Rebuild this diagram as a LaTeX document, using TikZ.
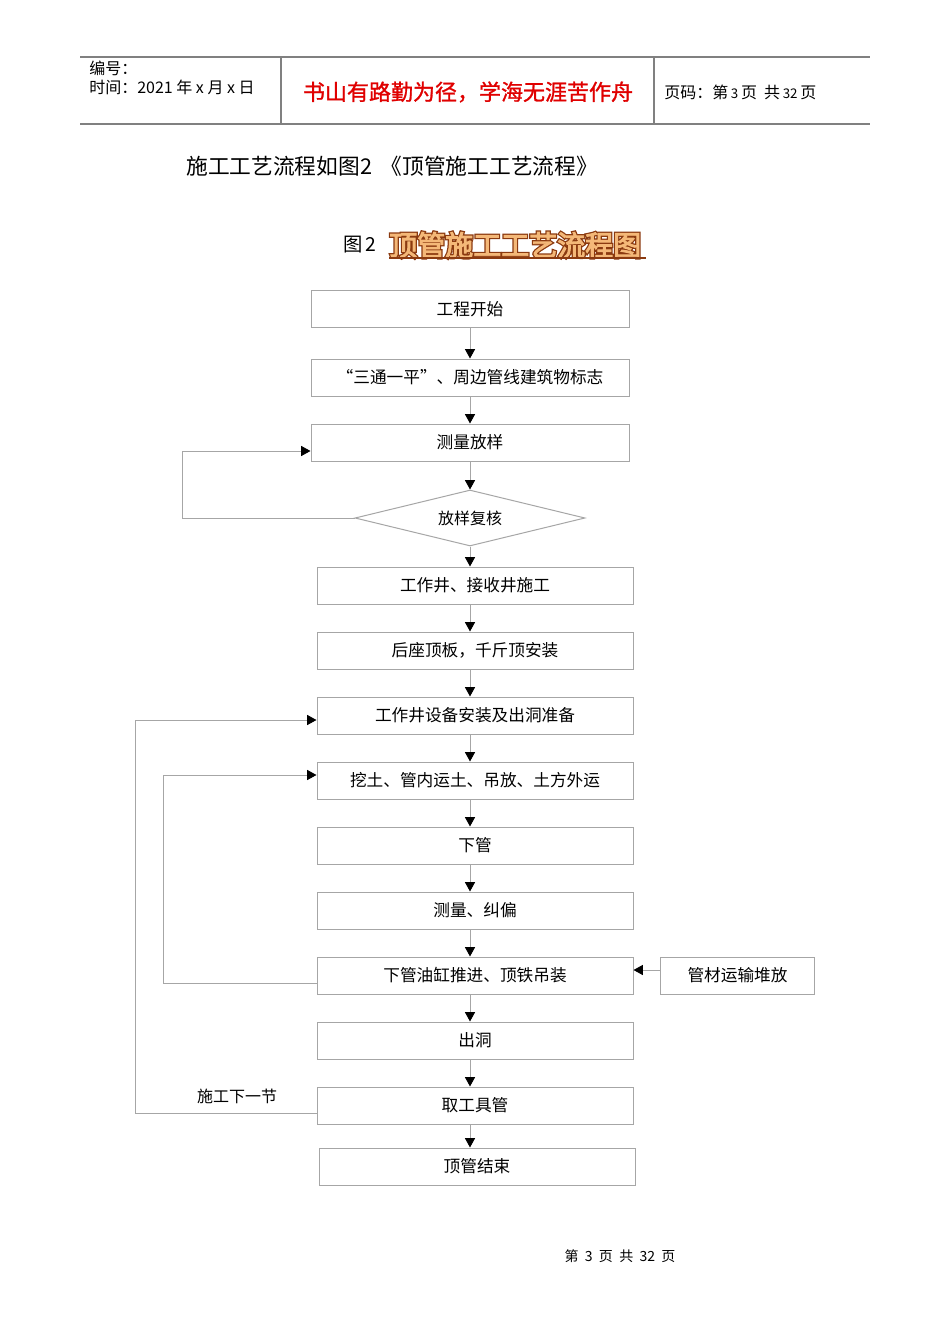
\documentclass[tikz,border=0pt]{standalone}
\usepackage{fontspec}
\setmainfont{Noto Sans CJK SC}
\newfontfamily\cjk{Noto Sans CJK SC}
\newfontfamily\cjkbold[FakeBold=1.2]{Noto Sans CJK SC}
\usetikzlibrary{shapes.geometric,arrows.meta}
\definecolor{boxline}{HTML}{A6A6A6}
\definecolor{hdrline}{HTML}{808080}
\definecolor{titlefill}{HTML}{F4B878}
\definecolor{titlebrown}{HTML}{8B3A10}
\definecolor{hdrred}{HTML}{E00000}
\newcommand{\titletext}{顶管施工工艺流程图}
\begin{document}
\begin{tikzpicture}[x=0.75pt,y=-0.75pt,
  box/.style={draw=boxline,line width=0.75pt,minimum width=237pt,minimum height=27.75pt,inner sep=0pt,font=\cjk\fontsize{12.5}{14}\selectfont},
  dia/.style={draw=boxline,line width=0.75pt,diamond,aspect=4,minimum width=172.5pt,minimum height=42pt,inner sep=0pt,font=\cjk\fontsize{12}{13}\selectfont},
  arr/.style={draw=boxline,line width=0.75pt,-{Triangle[length=7pt,width=7.5pt,color=black]}},
  hdr/.style={draw=hdrline,line width=1pt},
  txt/.style={inner sep=0pt,font=\cjk\fontsize{12}{14}\selectfont}]
\fill[white] (0,0) rectangle (950,1344);
% header
\draw[hdr] (80,57) -- (870,57);
\draw[hdr] (80,124) -- (870,124);
\draw[hdr] (281,57) -- (281,124);
\draw[hdr] (654,57) -- (654,124);
\node[txt,anchor=west] (h1) at (89,68) {编号：};
\node[txt,anchor=west] (h2) at (89,87) {时间：2021 年 x 月 x 日};
\node[inner sep=0pt,font=\cjkbold\fontsize{16.5}{18}\selectfont,text=hdrred] (h3) at (468,92) {书山有路勤为径，学海无涯苦作舟};
\node[txt,anchor=west] (h4) at (664,92) {页码：第\,{\fontsize{10}{11}\selectfont 3}\,页 \ 共\,{\fontsize{10}{11}\selectfont 32}\,页};
% intro text
\node[inner sep=0pt,anchor=west,font=\cjk\fontsize{16.3}{18}\selectfont] (intro) at (186,166) {施工工艺流程如图2 \,《顶管施工工艺流程》};
\node[inner sep=0pt,anchor=west,font=\cjk\fontsize{14.5}{16}\selectfont] (fig) at (343,245) {图\,2};
\node[inner sep=0pt,anchor=west,font=\cjk\fontsize{21}{23}\selectfont] (title) at (389,245) {\rlap{\color{titlebrown}\special{pdf:literal direct 2 Tr 2.6 w}\titletext}{\color{titlefill}\special{pdf:literal direct 2 Tr 0.7 w}\titletext}\special{pdf:literal direct 0 Tr}};
\draw[titlebrown,line width=0.9pt] (389,258) -- (646,258);
% flow
\coordinate (ax) at (470,0);
\node[box,minimum width=238.5pt] (b1) at (470,309) {工程开始};
\node[box,minimum width=238.5pt] (b2) at (470,377.5) {“三通一平”、周边管线建筑物标志};
\node[box,minimum width=238.5pt] (b3) at (470,442.5) {测量放样};
\node[dia] (d) at (470,518) {放样复核};
\node[box] (b5) at (475,585.5) {工作井、接收井施工};
\node[box] (b6) at (475,650.5) {后座顶板，千斤顶安装};
\node[box] (b7) at (475,715.5) {工作井设备安装及出洞准备};
\node[box] (b8) at (475,780.5) {挖土、管内运土、吊放、土方外运};
\node[box] (b9) at (475,845.5) {下管};
\node[box] (b10) at (475,910.5) {测量、纠偏};
\node[box] (b11) at (475,975.5) {下管油缸推进、顶铁吊装};
\node[box] (b12) at (475,1040.5) {出洞};
\node[box] (b13) at (475,1105.5) {取工具管};
\node[box] (b14) at (477,1166.5) {顶管结束};
\node[box,minimum width=115pt] (side) at (737.5,975.5) {管材运输堆放};
\draw[arr] (b1.south -| ax) -- (b2.north -| ax);
\draw[arr] (b2.south -| ax) -- (b3.north -| ax);
\draw[arr] (b3.south -| ax) -- (d.north);
\draw[arr] (d.south) -- (b5.north -| ax);
\draw[arr] (b5.south -| ax) -- (b6.north -| ax);
\draw[arr] (b6.south -| ax) -- (b7.north -| ax);
\draw[arr] (b7.south -| ax) -- (b8.north -| ax);
\draw[arr] (b8.south -| ax) -- (b9.north -| ax);
\draw[arr] (b9.south -| ax) -- (b10.north -| ax);
\draw[arr] (b10.south -| ax) -- (b11.north -| ax);
\draw[arr] (b11.south -| ax) -- (b12.north -| ax);
\draw[arr] (b12.south -| ax) -- (b13.north -| ax);
\draw[arr] (b13.south -| ax) -- (b14.north -| ax);
\draw[arr] (side.west |- 0,970) -- (b11.east |- 0,970);
% loops
\coordinate (y3) at (0,451);
\coordinate (y8) at (0,775);
\coordinate (y7) at (0,720);
\coordinate (y11) at (0,983);
\coordinate (y13) at (0,1113);
\draw[arr] (d.west) -| (182,451) -- (b3.west |- y3);
\draw[arr] (b11.west |- y11) -| (163,775) -- (b8.west |- y8);
\draw[arr] (b13.west |- y13) -| (135,720) -- (b7.west |- y7);
\node[inner sep=0pt,font=\cjk\fontsize{12}{14}\selectfont] (next) at (237,1096) {施工下一节};
% footer
\node[inner sep=0pt,font=\cjk\fontsize{10.5}{12}\selectfont] (foot) at (620,1256) {第\ \ 3\ \ 页\ \ 共\ \ 32\ \ 页};
\end{tikzpicture}
\end{document}
